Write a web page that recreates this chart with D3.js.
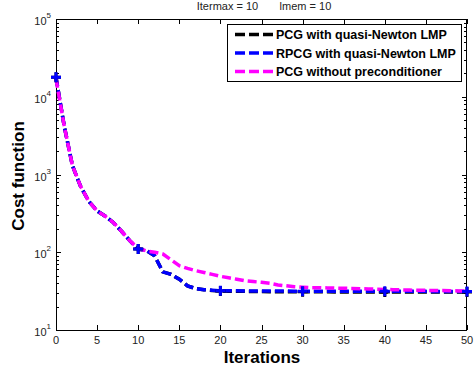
<!DOCTYPE html>
<html>
<head>
<meta charset="utf-8">
<script src="https://cdn.jsdelivr.net/npm/d3@7"></script>
<style>
    body { margin: 0; background: #fff; }
    svg { display: block; font-family: "Liberation Sans", Arial, sans-serif; }
</style>
</head>
<body>
<svg id="chart" width="474" height="367"></svg>
<script>
"use strict";

// Data (cost per iteration)
const iterations = d3.range(0, 51);
const costNoPrec = [17000, 4200, 1300, 700, 450, 340, 290, 240, 185, 140,
    112, 104, 100, 95, 80, 67, 62, 58, 55, 52,
    49, 47, 45, 43, 42, 41, 40, 38, 37, 36,
    35.5, 35, 35, 34.8, 34.6, 34.4, 34.2, 34, 33.8, 33.5,
    33.2, 33, 32.8, 32.6, 32.5, 32.4, 32.2, 32.1, 32, 31.8, 31.6];
const costRpcg = [17800, 4200, 1300, 700, 450, 340, 290, 240, 185, 140,
    110, 105, 90, 56, 52, 45, 37, 34, 33, 32.5,
    32, 31.9, 31.9, 31.8, 31.8, 31.8, 31.7, 31.7, 31.7, 31.6,
    31.6, 31.6, 31.6, 31.6, 31.5, 31.5, 31.5, 31.5, 31.5, 31.5,
    31.4, 31.4, 31.4, 31.4, 31.4, 31.4, 31.3, 31.3, 31.3, 31.3, 31.3];
const costPcg = [17800, 4200, 1300, 700, 450, 340, 290, 240, 185, 140,
    110, 105, 90, 56, 52, 45, 37, 34, 33, 32.3,
    31.8, 31.6, 31.5, 31.4, 31.3, 31.2, 31.1, 31.1, 31.0, 31.0,
    31.0, 31.0, 31.0, 31.0, 30.9, 30.9, 30.9, 30.9, 30.9, 30.9,
    30.9, 30.9, 30.9, 30.9, 30.9, 30.9, 30.9, 30.9, 30.9, 30.9, 30.9];
const markerIters = [0, 10, 20, 30, 40, 50];
const xTicks = [0, 5, 10, 15, 20, 25, 30, 35, 40, 45, 50];
const yDecades = [1, 2, 3, 4, 5];

const seriesNames = ['PCG with quasi-Newton LMP', 'RPCG with quasi-Newton LMP', 'PCG without preconditioner'];
const seriesColors = ['#000000', '#0000ff', '#ff00ff'];
const seriesValues = [costPcg, costRpcg, costNoPrec];

const svg = d3.select('#chart');
const plotLeft = 56, plotRight = 467, plotTop = 19, plotBottom = 330;

const x = d3.scaleLinear().domain([0, 50]).range([plotLeft, plotRight]);
const y = d3.scaleLog().domain([10, 1e5]).range([plotBottom, plotTop]);

// Title
svg.append('text')
    .attr('x', 264).attr('y', 10)
    .attr('text-anchor', 'middle')
    .attr('font-size', 11)
    .attr('fill', '#222')
    .attr('xml:space', 'preserve')
    .text('Itermax = 10       lmem = 10');

// Ticks (inside, mirrored on all sides)
const tickG = svg.append('g').attr('stroke', '#000').attr('stroke-width', 1);
xTicks.forEach(t => {
    const px = Math.round(x(t)) + 0.5;
    tickG.append('line').attr('x1', px).attr('x2', px).attr('y1', plotBottom).attr('y2', plotBottom - 5);
    tickG.append('line').attr('x1', px).attr('x2', px).attr('y1', plotTop).attr('y2', plotTop + 5);
});
const minorVals = [];
for (let d = 1; d < 5; d++) {
    for (let m = 2; m <= 9; m++) minorVals.push(m * Math.pow(10, d));
}
minorVals.forEach(v => {
    const py = Math.round(y(v)) + 0.5;
    tickG.append('line').attr('x1', plotLeft).attr('x2', plotLeft + 3).attr('y1', py).attr('y2', py);
    tickG.append('line').attr('x1', plotRight).attr('x2', plotRight - 3).attr('y1', py).attr('y2', py);
});
yDecades.forEach(d => {
    const py = Math.round(y(Math.pow(10, d))) + 0.5;
    tickG.append('line').attr('x1', plotLeft).attr('x2', plotLeft + 5).attr('y1', py).attr('y2', py);
    tickG.append('line').attr('x1', plotRight).attr('x2', plotRight - 5).attr('y1', py).attr('y2', py);
});

// Axes box
svg.append('rect')
    .attr('x', plotLeft + 0.5).attr('y', plotTop + 0.5)
    .attr('width', plotRight - plotLeft - 1).attr('height', plotBottom - plotTop)
    .attr('fill', 'none').attr('stroke', '#000').attr('stroke-width', 1);

// Tick labels
svg.append('g').selectAll('text')
    .data(xTicks).enter().append('text')
    .attr('x', d => x(d)).attr('y', 344)
    .attr('text-anchor', 'middle')
    .attr('font-size', 11)
    .attr('fill', '#222')
    .text(d => d);

const yLab = svg.append('g').selectAll('text')
    .data(yDecades).enter().append('text')
    .attr('x', 51).attr('y', d => y(Math.pow(10, d)) + 6)
    .attr('text-anchor', 'end')
    .attr('font-size', 11)
    .attr('fill', '#222');
yLab.append('tspan').text('10');
yLab.append('tspan').attr('font-size', 8).attr('dy', -7).text(d => d);

// Axis labels
svg.append('text')
    .attr('x', 262).attr('y', 363)
    .attr('text-anchor', 'middle')
    .attr('font-size', 17).attr('font-weight', 'bold')
    .text('Iterations');
svg.append('text')
    .attr('transform', 'translate(24,176) rotate(-90)')
    .attr('text-anchor', 'middle')
    .attr('font-size', 17).attr('font-weight', 'bold')
    .text('Cost function');

// Lines
const plot = svg.append('g');
const line = d3.line()
    .x((d, i) => x(iterations[i]))
    .y(d => y(d));

seriesValues.forEach((vals, k) => {
    plot.append('path')
        .datum(vals)
        .attr('d', line)
        .attr('fill', 'none')
        .attr('stroke', seriesColors[k])
        .attr('stroke-width', 3.5)
        .attr('stroke-dasharray', '9,4');
});

// '+' markers for the two LMP runs
[0, 1].forEach(k => {
    plot.append('g').selectAll('path')
        .data(markerIters).enter().append('path')
        .attr('d', d => {
            const cx = x(d), cy = y(seriesValues[k][d]);
            return 'M' + (cx - 5) + ',' + cy + 'H' + (cx + 5) + 'M' + cx + ',' + (cy - 5) + 'V' + (cy + 5);
        })
        .attr('stroke', seriesColors[k])
        .attr('stroke-width', 3);
});

// Legend
const lg = svg.append('g');
lg.append('rect')
    .attr('x', 227.5).attr('y', 24.5).attr('width', 234).attr('height', 57)
    .attr('fill', '#fff').attr('stroke', '#000').attr('stroke-width', 1);
seriesNames.forEach((name, k) => {
    const ly = 34.5 + k * 18.5;
    lg.append('line')
        .attr('x1', 235).attr('x2', 273).attr('y1', ly).attr('y2', ly)
        .attr('stroke', seriesColors[k]).attr('stroke-width', 3.5)
        .attr('stroke-dasharray', '10,4');
    lg.append('text')
        .attr('x', 276).attr('y', ly + 4.5)
        .attr('font-size', 12.5).attr('font-weight', 'bold')
        .text(name);
});
</script>
</body>
</html>
